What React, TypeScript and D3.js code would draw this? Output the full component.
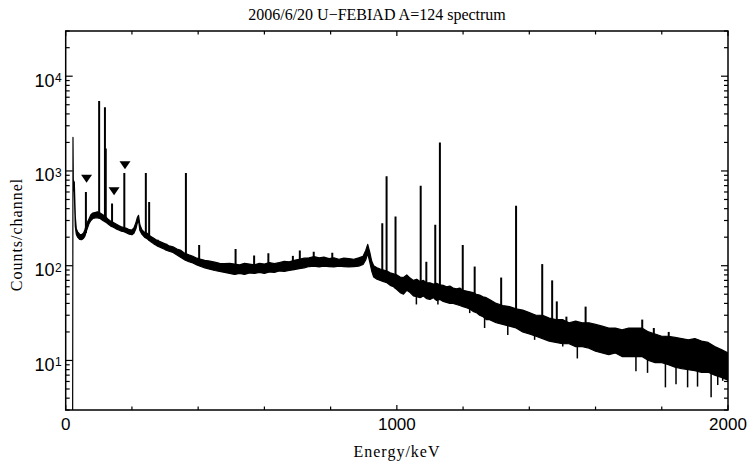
import React from 'react';
import * as d3 from 'd3';

// ---- data ----
const bgEnergy = [21, 22, 23, 26, 29, 32, 36, 42, 48, 54, 58, 64, 70, 76, 82, 90, 96, 104, 112, 120, 128, 136, 144, 152, 160, 168, 176, 184, 192, 200, 206, 212, 216, 220, 224, 230, 238, 246, 256, 266, 276, 288, 300, 312, 324, 336, 348, 360, 372, 384, 396, 408, 420, 435, 450, 465, 480, 495, 510, 525, 540, 555, 570, 585, 600, 615, 630, 645, 660, 675, 690, 705, 720, 735, 750, 765, 780, 795, 810, 825, 840, 855, 870, 885, 898, 906, 912, 918, 924, 930, 940, 950, 960, 970, 980, 990, 1000, 1010, 1020, 1030, 1040, 1050, 1060, 1070, 1080, 1090, 1100, 1110, 1120, 1130, 1140, 1150, 1160, 1170, 1180, 1190, 1200, 1210, 1220, 1230, 1240, 1250, 1260, 1270, 1280, 1290, 1300, 1320, 1340, 1360, 1380, 1400, 1420, 1440, 1460, 1480, 1500, 1520, 1540, 1560, 1580, 1600, 1620, 1640, 1660, 1680, 1700, 1720, 1740, 1760, 1780, 1800, 1820, 1840, 1860, 1880, 1900, 1920, 1940, 1960, 1980, 2000];
const bgLower = [3, 2100, 700, 600, 260, 215, 200, 190, 188, 195, 205, 240, 275, 300, 315, 320, 320, 315, 300, 290, 275, 262, 255, 245, 238, 232, 228, 222, 215, 212, 220, 245, 280, 300, 235, 215, 200, 192, 180, 170, 162, 155, 148, 142, 138, 130, 122, 115, 110, 107, 102, 98, 95, 92, 89, 87, 85, 83, 81, 83, 81, 84, 83, 85, 83, 86, 85, 88, 87, 89, 91, 93, 95, 98, 99, 97, 99, 98, 97, 99, 98, 97, 98, 99, 103, 115, 135, 110, 88, 76, 72, 70, 68, 66, 62, 60, 56, 52, 50, 55, 52, 48, 47, 46, 48, 45, 44, 46, 43, 44, 42, 41, 40, 40, 39, 38, 37, 36, 35, 33, 32, 30, 29, 27, 27, 26, 25, 24, 23, 22, 20, 19, 18, 17, 16, 15.5, 15, 15, 14, 14, 13.5, 12.5, 12, 11.5, 12, 11, 11, 11, 11, 10, 9.5, 9.5, 9, 8.5, 8.2, 8, 7.8, 7.5, 7.5, 7, 6.6, 6.2];
const bgUpper = [3, 2260, 800, 760, 330, 245, 228, 215, 212, 222, 240, 280, 310, 345, 360, 365, 370, 360, 345, 330, 310, 295, 285, 275, 265, 258, 252, 248, 240, 238, 250, 285, 320, 340, 270, 240, 225, 220, 205, 195, 185, 178, 170, 162, 158, 150, 145, 135, 130, 126, 120, 117, 114, 112, 109, 106, 105, 106, 104, 102, 106, 104, 102, 106, 104, 108, 105, 108, 111, 110, 114, 117, 120, 121, 125, 121, 123, 119, 121, 117, 120, 119, 117, 121, 126, 145, 168, 140, 112, 100, 95, 92, 90, 88, 84, 82, 80, 76, 75, 80, 74, 70, 72, 68, 70, 66, 66, 64, 65, 63, 62, 60, 61, 58, 57, 58, 55, 54, 53, 52, 50, 49, 47, 46, 44, 42, 40, 38, 37, 35, 34, 32, 30, 30, 28, 27, 27, 25, 26, 25, 25, 24, 23, 22, 22, 21, 22, 22, 22, 20, 19, 18, 18, 17.5, 17, 16.5, 17, 16, 15.5, 14, 13, 12];

const peakEnergy = [61, 101, 118.5, 121, 140, 177, 242, 252, 278, 304, 363, 403, 513, 569, 612, 686, 707, 749, 805, 956, 969, 996, 1072, 1089, 1116, 1130, 1199, 1235, 1315, 1360, 1439, 1469, 1483, 1512, 1570, 1663, 1741, 1776, 1821];
const peakCounts = [600, 5480, 4700, 1730, 453, 950, 950, 470, 188, 170, 950, 165, 150, 128, 135, 127, 145, 140, 137, 280, 880, 330, 700, 110, 270, 2000, 165, 98, 75, 430, 104, 70, 42, 29, 37, 22, 27, 22, 20];

const dipEnergy = [1059, 1124, 1220, 1265, 1335, 1416, 1481, 1501, 1545, 1722, 1757, 1811, 1843, 1878, 1908, 1949, 1969, 1984];
const dipCounts = [39, 39, 31.6, 22, 18.6, 16.5, 15.3, 14, 10.5, 7.7, 7.4, 5.2, 5.6, 5.2, 5.3, 4.1, 5.5, 6.1];

const markerEnergy = [63, 146, 179];
const markerCounts = [750, 555, 1040];

const xTickValues = [0, 200, 400, 600, 800, 1000, 1200, 1400, 1600, 1800, 2000];
const xLabelValues = [0, 1000, 2000];
const xDomain = [0, 2000];
const yDomain = [3, 30000];

const titleText = '2006/6/20 U\u2212FEBIAD A=124 spectrum';
const xTitle = 'Energy/keV';
const yTitle = 'Counts/channel';

export default function App() {
  const W = 748;
  const H = 463;
  const L = 65.7, R = 728, T = 31, B = 410;
  const x = d3.scaleLinear().domain(xDomain).range([L, R]);
  const y = d3.scaleLog().domain(yDomain).range([B, T]);
  const cy = (v: number) => y(Math.max(v, yDomain[0]));

  const bg = bgEnergy.map((e, i) => ({ e, lo: bgLower[i], hi: bgUpper[i] }));
  const area = d3
    .area<{ e: number; lo: number; hi: number }>()
    .x((d) => x(d.e))
    .y0((d) => cy(d.lo))
    .y1((d) => cy(d.hi));

  const interpAt = (e: number, key: 'lo' | 'hi') => {
    const i = d3.bisector((d: any) => d.e).left(bg, e);
    if (i <= 0) return bg[0][key];
    if (i >= bg.length) return bg[bg.length - 1][key];
    const a = bg[i - 1], b = bg[i];
    const t = (e - a.e) / (b.e - a.e);
    return Math.exp(Math.log(a[key]) * (1 - t) + Math.log(b[key]) * t);
  };

  const yTicks = y.ticks();
  const isMajor = (v: number) => Math.abs(Math.log10(v) - Math.round(Math.log10(v))) < 1e-9;
  const yMajor = yTicks.filter(isMajor);

  const sans = "'Liberation Sans', Arial, sans-serif";
  const serif = "'Liberation Serif', 'Times New Roman', serif";

  return (
    <svg
      width={W}
      height={H}
      viewBox={`0 0 ${W} ${H}`}
      style={{ position: 'fixed', left: 0, top: 0, background: '#fff' }}
    >
      <rect x={0} y={0} width={W} height={H} fill="#fff" />
      <defs>
        <clipPath id="plotclip">
          <rect x={L} y={T} width={R - L} height={B - T} />
        </clipPath>
      </defs>

      <g clipPath="url(#plotclip)">
        <path d={area(bg) || ''} fill="#000" stroke="#000" strokeWidth={1.2} strokeLinejoin="round" />
        {peakEnergy.map((e, i) => (
          <line
            key={'p' + i}
            x1={x(e)}
            x2={x(e)}
            y1={cy(interpAt(e, 'lo'))}
            y2={cy(peakCounts[i])}
            stroke="#000"
            strokeWidth={2}
          />
        ))}
        {dipEnergy.map((e, i) => (
          <line
            key={'d' + i}
            x1={x(e)}
            x2={x(e)}
            y1={cy(interpAt(e, 'hi'))}
            y2={cy(dipCounts[i])}
            stroke="#000"
            strokeWidth={1.5}
          />
        ))}
        {markerEnergy.map((e, i) => {
          const cx = x(e);
          const ty = cy(markerCounts[i]);
          return (
            <path
              key={'m' + i}
              d={`M${cx - 5.5},${ty - 8} L${cx + 5.5},${ty - 8} L${cx},${ty} Z`}
              fill="#000"
            />
          );
        })}
      </g>

      {/* frame */}
      <rect x={L} y={T} width={R - L} height={B - T} fill="none" stroke="#000" strokeWidth={1.5} />

      {/* x ticks bottom and top */}
      {xTickValues.map((v) => {
        const major = xLabelValues.includes(v);
        const len = major ? 5 : 3.5;
        return (
          <g key={'xt' + v}>
            <line x1={x(v)} x2={x(v)} y1={B} y2={B - len} stroke="#000" strokeWidth={1.2} />
            <line x1={x(v)} x2={x(v)} y1={T} y2={T + len} stroke="#000" strokeWidth={1.2} />
          </g>
        );
      })}
      {xLabelValues.map((v) => (
        <text key={'xl' + v} x={x(v)} y={430} textAnchor="middle" fontFamily={sans} fontSize={17}>
          {v}
        </text>
      ))}

      {/* y ticks left and right */}
      {yTicks.map((v) => {
        const major = isMajor(v);
        const len = major ? 7 : 4;
        return (
          <g key={'yt' + v}>
            <line x1={L} x2={L + len} y1={y(v)} y2={y(v)} stroke="#000" strokeWidth={1.2} />
            <line x1={R} x2={R - len} y1={y(v)} y2={y(v)} stroke="#000" strokeWidth={1.2} />
          </g>
        );
      })}
      {yMajor.map((v) => {
        const p = Math.round(Math.log10(v));
        return (
          <g key={'yl' + v}>
            <text x={54.5} y={y(v) + 10.5} textAnchor="end" fontFamily={sans} fontSize={18}>
              10
            </text>
            <text x={55} y={y(v) + 6} textAnchor="start" fontFamily={sans} fontSize={12}>
              {p}
            </text>
          </g>
        );
      })}

      {/* titles */}
      <text x={377} y={20} textAnchor="middle" fontFamily={serif} fontSize={16}>
        {titleText}
      </text>
      <text x={397} y={456.5} textAnchor="middle" fontFamily={serif} fontSize={16} letterSpacing={1}>
        {xTitle}
      </text>
      <text
        transform={`translate(22,${(T + B) / 2 + 14}) rotate(-90)`}
        textAnchor="middle"
        fontFamily={serif}
        fontSize={16}
        letterSpacing={1}
      >
        {yTitle}
      </text>
    </svg>
  );
}
